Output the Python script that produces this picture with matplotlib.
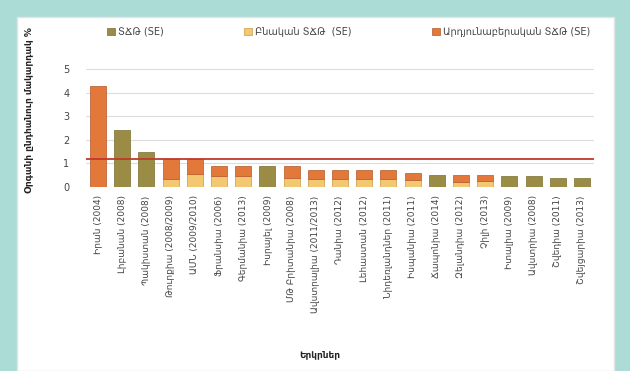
import matplotlib.pyplot as plt
import matplotlib.patches as mpatches
import numpy as np

plt.rcParams['font.family'] = ['DejaVu Sans']

# Data
countries = ['Իրան (2004)', 'Լիբանան (2008)', 'Պակիստան (2008)', 'Թուրքիա (2008/2009)',
             'ԱՄՆ (2009/2010)', 'Ֆրանսիա (2006)', 'Գերմանիա (2013)', 'Իսրայել (2009)',
             'ՄԹ Բրիտանիա (2008)', 'Ավստրալիա (2011/2013)', 'Դանիա (2012)', 'Լեհաստան (2012)',
             'Նիդեռլանդներ (2011)', 'Իսպանիա (2011)', 'Ճապոնիա (2014)', 'Զելանդիա (2012)',
             'Չիլի (2013)', 'Իտալիա (2009)', 'Ավստրիա (2008)', 'Շվեդիա (2011)',
             'Շվեյցարիա (2013)']
total_tfa = [0, 2.4, 1.5, 0, 0, 0, 0, 0.9, 0, 0, 0, 0, 0, 0, 0.5, 0, 0, 0.45, 0.45, 0.4, 0.4]
natural_tfa = [0, 0, 0, 0.35, 0.55, 0.45, 0.45, 0, 0.4, 0.35, 0.35, 0.35, 0.35, 0.3, 0, 0.2, 0.25, 0, 0, 0, 0]
industrial_tfa = [4.3, 0, 0, 0.85, 0.65, 0.45, 0.45, 0, 0.5, 0.35, 0.35, 0.35, 0.35, 0.3, 0, 0.3, 0.25, 0, 0, 0, 0]
limit = 1.2
legend_labels = ['ՏՃԹ (SE)', 'Բնական ՏՃԹ  (SE)', 'Արդյունաբերական ՏՃԹ (SE)']

c_total = '#9a8c45'
c_nat = '#f3c873'
c_ind = '#e2783a'

fig = plt.figure(figsize=(6.3, 3.71), dpi=100)
fig.patch.set_facecolor('#acdcd6')
panel = mpatches.Rectangle((17 / 630, 0), 597 / 630, 1 - 17 / 371,
                           transform=fig.transFigure, facecolor='white',
                           edgecolor='#e4e4e4', linewidth=1, zorder=-10)
fig.patches.append(panel)

ax = fig.add_axes([86 / 630, (371 - 187) / 371, 508 / 630, 125 / 371])
ax.set_facecolor('none')
x = np.arange(len(countries))
w = 0.66
ax.bar(x, total_tfa, w, color=c_total, edgecolor='#7a6e30', linewidth=0.5, label=legend_labels[0], zorder=3)
ax.bar(x, natural_tfa, w, color=c_nat, edgecolor='#c99a3e', linewidth=0.5, label=legend_labels[1], zorder=3)
ax.bar(x, industrial_tfa, w, bottom=natural_tfa, color=c_ind, edgecolor='#b5582a', linewidth=0.5,
       label=legend_labels[2], zorder=3)
ax.axhline(limit, color='#c0392b', linewidth=1.3, zorder=4)

ax.set_xlim(-0.5, len(countries) - 0.5)
ax.set_ylim(0, 5.3)
ax.set_yticks(range(6))
ax.yaxis.grid(True, color='#dddddd', linewidth=0.8, zorder=0)
ax.set_axisbelow(True)
ax.set_xticks(x)
ax.set_xticklabels(countries, rotation=90, fontsize=6.5, color='#444444')
ax.tick_params(axis='y', labelsize=7, colors='#444444', length=0, pad=12)
ax.tick_params(axis='x', length=0, pad=6)
for s in ax.spines.values():
    s.set_visible(False)

handles, labels = ax.get_legend_handles_labels()
fig.legend(handles, labels, loc='center', bbox_to_anchor=(0.553, 1 - 32 / 371), ncol=3,
           frameon=False, fontsize=7, handlelength=0.8, handleheight=0.8,
           columnspacing=8.3, handletextpad=0.3, labelcolor='#444444')

fig.text(30 / 630, 1 - 110 / 371, 'Օրգանի ընդհանուր մակարդակ %', rotation=90,
         ha='center', va='center', fontsize=6.5, color='#222222', fontweight='bold')
fig.text(320 / 630, 1 - 355 / 371, 'Երկրներ', ha='center', va='center', fontsize=6.5,
         color='#222222', fontweight='bold')

plt.savefig('out.png', dpi=100, facecolor=fig.get_facecolor())
